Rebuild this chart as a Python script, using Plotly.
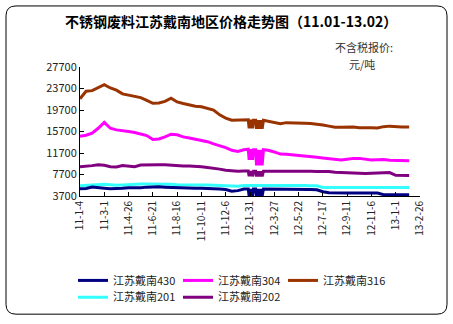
import plotly.graph_objects as go

# Sampling dates (roughly fortnightly, daily-ish around the Spring Festival 2012 swings)
dates = [
    "2011-01-04", "2011-01-18", "2011-02-01", "2011-02-15", "2011-03-01", "2011-03-15",
    "2011-03-29", "2011-04-12", "2011-04-26", "2011-05-10", "2011-05-24", "2011-06-07",
    "2011-06-21", "2011-07-05", "2011-07-19", "2011-08-02", "2011-08-16", "2011-08-30",
    "2011-09-13", "2011-09-27", "2011-10-11", "2011-10-25", "2011-11-08", "2011-11-22",
    "2011-12-06", "2011-12-20", "2012-01-03", "2012-01-17",
    "2012-01-27", "2012-01-29", "2012-01-31", "2012-02-02", "2012-02-04", "2012-02-06",
    "2012-02-08", "2012-02-13", "2012-02-15", "2012-02-17", "2012-02-19", "2012-02-21",
    "2012-02-23", "2012-02-25", "2012-02-28", "2012-03-02",
    "2012-03-13", "2012-03-27", "2012-04-10", "2012-04-24", "2012-05-08", "2012-05-22",
    "2012-06-05", "2012-06-19", "2012-07-03", "2012-07-17", "2012-07-31", "2012-08-14",
    "2012-08-28", "2012-09-11", "2012-09-25", "2012-10-09", "2012-10-23", "2012-11-06",
    "2012-11-20", "2012-12-04", "2012-12-18", "2013-01-01", "2013-01-15", "2013-01-29",
    "2013-02-01",
]

price_430 = [
    5050, 5100, 5350, 5300, 5150, 5050, 5050, 5150, 5250, 5200,
    5250, 5350, 5400, 5400, 5350, 5300, 5200, 5200, 5150, 5150,
    5150, 5150, 5050, 5000, 4900, 4600, 4700, 5000,
    5000, 3700, 5000, 3700, 5000, 3700, 5000, 5000,
    3700, 5000, 3700, 5000, 3700, 5000, 3700, 5000,
    5000, 4950, 4950, 4950, 4900, 4900, 4900, 4900, 4850, 4500,
    4300, 4250, 4250, 4250, 4250, 4250, 4250, 4250, 4250,
    3950, 3950, 3950, 3950, 3950, 3950,
]

price_304 = [
    14800, 15000, 15400, 16300, 17400, 16300, 16000, 15900, 15700, 15500,
    15200, 14950, 14200, 14300, 14700, 15200, 15100, 14700, 14500, 14300,
    14000, 13800, 13400, 13100, 12700, 12200, 12000, 12300,
    12400, 10400, 12400, 10400, 12400, 10400, 12300, 12300,
    9400, 12300, 9400, 12300, 9400, 12300, 9400, 12300,
    12200, 11900, 11500, 11450, 11350, 11300, 11200, 11100, 10900, 10750,
    10600, 10450, 10400, 10550, 10700, 10700, 10500, 10400, 10450, 10500,
    10350, 10300, 10280, 10250, 10250,
]

price_316 = [
    21800, 23200, 23300, 23900, 24400, 23800, 23400, 22700, 22500, 22300,
    22000, 21500, 20950, 21000, 21300, 21900, 21200, 20900, 20600, 20400,
    20300, 20000, 19700, 18800, 18200, 17800, 17800, 17900,
    17900, 16300, 17900, 16300, 17900, 16300, 17800, 17800,
    16200, 17800, 16200, 17800, 16200, 17800, 16200, 17800,
    17600, 17300, 17150, 17350, 17350, 17300, 17250, 17200, 17100, 16900,
    16700, 16500, 16500, 16500, 16550, 16400, 16450, 16400, 16350, 16600,
    16700, 16600, 16550, 16550, 16550,
]

price_201 = [
    5600, 5700, 5800, 5850, 5900, 5800, 5700, 5750, 5850, 5900,
    5950, 5950, 5950, 5950, 5950, 5900, 5800, 5800, 5850, 5850,
    5800, 5750, 5700, 5650, 5650, 5500, 5500, 5650,
    5650, 5650, 5650, 5650, 5650, 5650, 5650, 5650,
    5650, 5650, 5650, 5650, 5650, 5650, 5650, 5650,
    5750, 5700, 5700, 5700, 5650, 5650, 5650, 5600, 5600, 5300,
    5300, 5300, 5300, 5300, 5300, 5300, 5300, 5300, 5300, 5300,
    5300, 5300, 5300, 5300, 5300,
]

price_202 = [
    9150, 9200, 9350, 9500, 9400, 9150, 9100, 9350, 9300, 9150,
    9450, 9500, 9550, 9500, 9500, 9400, 9350, 9300, 9300, 9250,
    9150, 9000, 8900, 8700, 8500, 8350, 8300, 8350,
    8350, 7350, 8350, 7350, 8350, 7350, 8300, 8300,
    7350, 8300, 7350, 8300, 7350, 8300, 7350, 8300,
    8300, 8350, 8400, 8400, 8400, 8400, 8350, 8300, 8250, 8250,
    8250, 8100, 8050, 8000, 7950, 7950, 7900, 7950, 8000, 8000,
    8050, 7550, 7500, 7500, 7500,
]

series_names = ["江苏戴南430", "江苏戴南304", "江苏戴南316", "江苏戴南201", "江苏戴南202"]
series_values = [price_430, price_304, price_316, price_201, price_202]
series_colors = ["#000080", "#FF00FF", "#993300", "#33FFFF", "#800080"]
# first three entries in the top legend row, the rest in the second row
series_legend = ["legend", "legend", "legend", "legend2", "legend2"]

y_ticks = [3700, 7700, 11700, 15700, 19700, 23700, 27700]
y_tick_labels = ["3700", "7700", "11700", "15700", "19700", "23700", "27700"]
x_tick_dates = [
    "2011-01-04", "2011-03-01", "2011-04-26", "2011-06-21", "2011-08-16", "2011-10-11",
    "2011-12-06", "2012-01-31", "2012-03-27", "2012-05-22", "2012-07-17", "2012-09-11",
    "2012-11-06", "2013-01-01", "2013-02-26",
]
x_tick_labels = [
    "11-1-4", "11-3-1", "11-4-26", "11-6-21", "11-8-16", "11-10-11", "11-12-6",
    "12-1-31", "12-3-27", "12-5-22", "12-7-17", "12-9-11", "12-11-6", "13-1-1", "13-2-26",
]

FONT = "Noto Sans CJK SC"
W, H = 453, 324
L, R, T, B = 80, 420, 67, 198  # plot area in pixels


def px(xp):
    return (xp - L) / (R - L)


def py(yp):
    return (B - yp) / (B - T)


fig = go.Figure()
# draw order: lighter lines first, navy last so it sits on top
draw_order = [3, 4, 2, 1, 0]
for i in draw_order:
    fig.add_trace(go.Scatter(
        x=dates, y=series_values[i], name=series_names[i], mode="lines",
        line=dict(color=series_colors[i], width=3),
        legend=series_legend[i], legendrank=i + 1,
    ))

# rounded frame around the whole chart
x0, x1, y0, y1, rr = 6, 447, 5, 318, 10
path = (
    f"M {px(x0 + rr)},{py(y0)} L {px(x1 - rr)},{py(y0)} "
    f"Q {px(x1)},{py(y0)} {px(x1)},{py(y0 + rr)} "
    f"L {px(x1)},{py(y1 - rr)} Q {px(x1)},{py(y1)} {px(x1 - rr)},{py(y1)} "
    f"L {px(x0 + rr)},{py(y1)} Q {px(x0)},{py(y1)} {px(x0)},{py(y1 - rr)} "
    f"L {px(x0)},{py(y0 + rr)} Q {px(x0)},{py(y0)} {px(x0 + rr)},{py(y0)} Z"
)
fig.add_shape(type="path", path=path, xref="paper", yref="paper",
              line=dict(color="#000000", width=1), layer="below")

fig.add_annotation(
    text="<b>不锈钢废料江苏戴南地区价格走势图（11.01-13.02）</b>",
    xref="paper", yref="paper", x=px(231), y=py(20),
    xanchor="center", yanchor="middle", showarrow=False,
    font=dict(family=FONT, size=14, color="#000000"),
)
fig.add_annotation(
    text="不含税报价:", xref="paper", yref="paper", x=px(364), y=py(47),
    xanchor="center", yanchor="middle", showarrow=False,
    font=dict(family=FONT, size=11, color="#333333"),
)
fig.add_annotation(
    text="元/吨", xref="paper", yref="paper", x=px(362), y=py(64),
    xanchor="center", yanchor="middle", showarrow=False,
    font=dict(family=FONT, size=11, color="#333333"),
)

legend_style = dict(
    orientation="h", xanchor="left", yanchor="top",
    font=dict(family=FONT, size=11, color="#222222"),
    entrywidth=60, entrywidthmode="pixels", tracegroupgap=0,
    bgcolor="rgba(0,0,0,0)",
)

fig.update_layout(
    width=W, height=H,
    margin=dict(l=L, r=W - R, t=T, b=H - B, pad=0),
    paper_bgcolor="#FFFFFF", plot_bgcolor="#FFFFFF",
    font=dict(family=FONT, size=11, color="#222222"),
    showlegend=True,
    legend=dict(x=px(73), y=py(269), **legend_style),
    legend2=dict(x=px(73), y=py(286), **legend_style),
    xaxis=dict(
        type="date", range=["2011-01-04", "2013-02-26"],
        tickmode="array", tickvals=x_tick_dates, ticktext=x_tick_labels,
        tickangle=-90, ticks="inside", ticklen=4, tickcolor="#000000",
        showline=True, linecolor="#000000", linewidth=1,
        showgrid=False, zeroline=False,
        tickfont=dict(family=FONT, size=10, color="#222222"),
    ),
    yaxis=dict(
        range=[3700, 27700], tickmode="array", tickvals=y_ticks, ticktext=y_tick_labels,
        ticks="inside", ticklen=4, tickcolor="#000000",
        showline=True, linecolor="#000000", linewidth=1,
        showgrid=False, zeroline=False,
        tickfont=dict(family=FONT, size=11, color="#222222"),
    ),
)

fig.write_html("out.html")
